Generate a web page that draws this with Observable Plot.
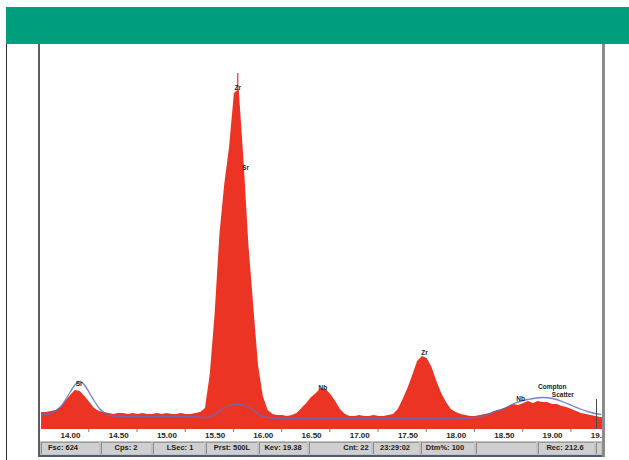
<!DOCTYPE html>
<html>
<head>
<meta charset="utf-8">
<script src="https://cdn.jsdelivr.net/npm/d3@7"></script>
<script src="https://cdn.jsdelivr.net/npm/@observablehq/plot@0.6"></script>
<style>
  html, body { margin: 0; padding: 0; background: #fff; }
  #page { position: relative; width: 629px; height: 460px; overflow: hidden; font-family: "Liberation Sans", Arial, sans-serif; }
  .abs { position: absolute; }
  .cell { position: absolute; top: 1px; height: 12px; background: #cfcfcf; border-left: 1px solid #8a8a8a; border-top: 1px solid #9a9a9a; box-sizing: border-box; }
  .stxt { position: absolute; top: 0; height: 14px; line-height: 14px; font-size: 7.5px; font-weight: bold; color: #222; transform: translateX(-50%); white-space: nowrap; }
</style>
</head>
<body>
<div id="page">
  <div class="abs" style="left:6px;top:7px;width:623px;height:37px;background:#009e7c"></div>
  <div class="abs" style="left:6px;top:44px;width:1.4px;height:416px;background:#2e2e2e"></div>
  <div id="chart" class="abs" style="left:40px;top:44px"></div>
  <div id="status" class="abs" style="left:40px;top:441px;width:562px;height:14px;background:#c2c2c2"></div>
  <div class="abs" style="left:38px;top:455px;width:567px;height:2px;background:#4d5a78"></div>
  <div class="abs" style="left:38px;top:44px;width:2px;height:413px;background:#5e5e62"></div>
  <div class="abs" style="left:602px;top:44px;width:3px;height:413px;background:#8c8c8c"></div>
</div>
<script>
// Spectrum channels (keV) and counts
const energy = [
  13.70,13.75,13.80,13.85,13.90,13.95,14.00,14.05,14.10,14.15,
  14.20,14.25,14.30,14.35,14.40,14.45,14.50,14.55,14.60,14.65,
  14.70,14.75,14.80,14.85,14.90,14.95,15.00,15.05,15.10,15.15,
  15.20,15.25,15.30,15.35,15.40,15.45,15.50,15.55,15.60,15.65,
  15.70,15.75,15.80,15.85,15.90,15.95,16.00,16.05,16.10,16.15,
  16.20,16.25,16.30,16.35,16.40,16.45,16.50,16.55,16.60,16.65,
  16.70,16.75,16.80,16.85,16.90,16.95,17.00,17.05,17.10,17.15,
  17.20,17.25,17.30,17.35,17.40,17.45,17.50,17.55,17.60,17.65,
  17.70,17.75,17.80,17.85,17.90,17.95,18.00,18.05,18.10,18.15,
  18.20,18.25,18.30,18.35,18.40,18.45,18.50,18.55,18.60,18.65,
  18.70,18.75,18.80,18.85,18.90,18.95,19.00,19.05,19.10,19.15,
  19.20,19.25,19.30,19.35,19.40,19.45,19.50,19.55
];
const counts = [
  17,17,18,19,22,28,34,39,38,33,
  27,21,18,17,16,15,16,16,15,16,
  15,16,15,15,16,15,16,15,15,16,
  15,15,16,17,21,55,115,195,245,282,
  336,340,268,185,124,64,33,19,15,14,
  14,13,14,16,21,26,32,36,41,40,
  35,28,20,15,13,13,14,13,13,14,
  13,13,14,15,20,30,41,54,68,73,
  71,62,48,36,27,20,17,15,14,13,
  13,14,15,16,18,19,21,23,25,24,
  26,28,26,28,27,27,25,25,23,22,
  20,18,16,15,14,13,12,12
];
// narrow single-channel spike on top of the Zr peak
const spikeEnergy = [15.735];
const spikeCounts = [356];

// fitted (blue) curve
const fitEnergy = [13.70,13.80,13.85,13.90,13.95,14.00,14.05,14.10,14.15,14.20,14.25,14.30,14.35,14.40,14.60,14.90,15.20,
  15.40,15.45,15.50,15.55,15.60,15.65,15.70,15.75,15.80,15.85,15.90,15.95,16.00,16.05,16.20,16.60,17.00,17.60,18.00,
  18.20,18.30,18.40,18.50,18.60,18.70,18.80,18.90,19.00,19.10,19.20,19.30,19.40,19.50];
const fitCounts = [15,16,19,23,30,38,45,48,44,36,28,21,17,14,13,13,13,
  12,13,15,19,22,24,25,25,24,22,19,15,13,12,11,11,11,11,11,
  12,14,18,21,26,29,31,32,31,28,24,20,17,15];

// peak annotations
const peakLabels = ["Sr","Zr","Sr","Nb","Zr","Nb","Compton","Scatter"];
const peakEnergy = [14.09,15.735,15.815,16.617,17.672,18.668,18.997,19.107];
const peakCounts = [46,342,262,42,77,31,43,35];

// cursor marker
const cursorEnergy = [19.456];
const cursorCounts = [30];

// axis ticks
const xTicks = [14.0,14.5,15.0,15.5,16.0,16.5,17.0,17.5,18.0,18.5,19.0,19.5];
const xMinorTicks = [14.19,14.69,15.19,15.69,16.19,16.69,17.19,17.69,18.19,18.69,19.19];

// status bar texts
const statusTexts = ["Fsc: 624","Cps: 2","LSec: 1","Prst: 500L","Kev: 19.38","Cnt: 22","23:29:02","Dtm%: 100","","Rec: 212.6",""];

const spectrum = energy.map((e, i) => ({energy: e, counts: counts[i]}));
const fit = fitEnergy.map((e, i) => ({energy: e, counts: fitCounts[i]}));
const spikes = spikeEnergy.map((e, i) => ({energy: e, counts: spikeCounts[i]}));
const labels = peakLabels.map((t, i) => ({text: t, energy: peakEnergy[i], counts: peakCounts[i]}));
const cursor = cursorEnergy.map((e, i) => ({energy: e, counts: cursorCounts[i]}));

const red = "#ec3424";
const chart = Plot.plot({
  width: 562, height: 397,
  marginTop: 0, marginRight: 0, marginBottom: 12, marginLeft: 0,
  x: {domain: [13.689, 19.518]},
  y: {domain: [0, 385], axis: null},
  style: {background: "white", fontFamily: "Liberation Sans, Arial, sans-serif"},
  marks: [
    Plot.areaY(spectrum, {x: "energy", y: "counts", curve: "linear", fill: red}),
    Plot.ruleX(spikes, {x: "energy", y1: 0, y2: "counts", stroke: red, strokeWidth: 1.2}),
    Plot.line(fit, {x: "energy", y: "counts", curve: "monotone-x", stroke: "#5a6ec8", strokeWidth: 1.3, strokeOpacity: 0.85}),
    Plot.ruleX(cursor, {x: "energy", y1: 0, y2: "counts", stroke: "#4a4a4a", strokeWidth: 1}),
    Plot.ruleX(xMinorTicks, {x: d => d, y1: 0, y2: -3, stroke: "#7a7a7a", strokeWidth: 1}),
    Plot.text(labels, {x: "energy", y: "counts", text: "text", fontSize: 6.5, fontWeight: "bold", fill: "#1c1c1c"}),
    Plot.axisX(xTicks, {tickFormat: d => d.toFixed(2), tickSize: 0, tickPadding: 3, fontSize: 8, fontWeight: "bold", fill: "#1e1e1e", label: null})
  ]
});
document.getElementById("chart").appendChild(chart);

// status bar cells
const cellEdges = [0,60,112,165,218,268,332,380,435,497,555,562];
const textCenters = [23,86,140,192,243,316,355,405,466,525,558];
const status = document.getElementById("status");
for (let i = 0; i < cellEdges.length - 1; i++) {
  const c = document.createElement("div");
  c.className = "cell";
  c.style.left = (cellEdges[i] + 1) + "px";
  c.style.width = (cellEdges[i + 1] - cellEdges[i] - 2) + "px";
  status.appendChild(c);
  if (statusTexts[i]) {
    const t = document.createElement("div");
    t.className = "stxt";
    t.style.left = textCenters[i] + "px";
    t.textContent = statusTexts[i];
    status.appendChild(t);
  }
}
</script>
</body>
</html>
